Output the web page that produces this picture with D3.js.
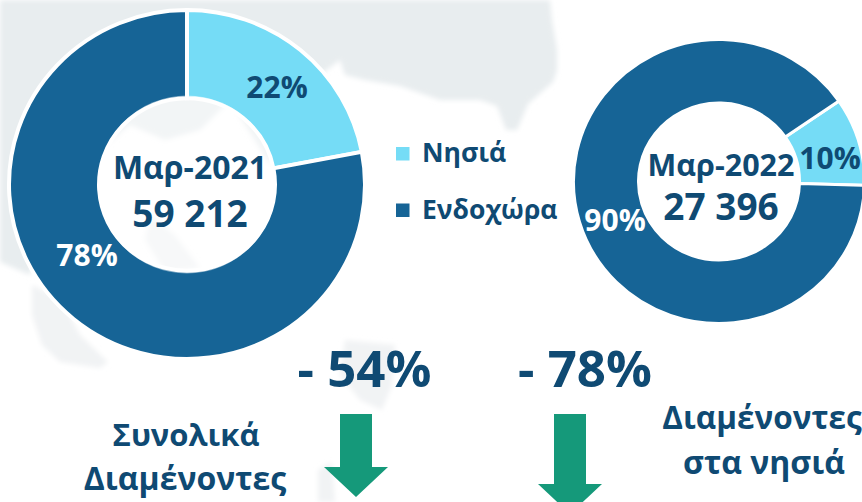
<!DOCTYPE html>
<html>
<head>
<meta charset="utf-8">
<script src="https://cdn.jsdelivr.net/npm/d3@7"></script>
<style>
  html, body { margin: 0; padding: 0; background: #fff; }
  text { font-family: "Open Sans", "Noto Sans", sans-serif; font-weight: 700; }
</style>
</head>
<body>
<div id="chart"></div>
<script>
// values
var categories = ["Νησιά", "Ενδοχώρα"];
var colors = ["#75dcf6", "#166496"];
var values2021 = [22, 78];
var values2022 = [10, 90];
var titles = ["Μαρ-2021", "Μαρ-2022"];
var totals = ["59 212", "27 396"];
var changes = ["- 54%", "- 78%"];

var width = 862, height = 502;
var dark = "#0f4a73";

var svg = d3.select("#chart").append("svg")
    .attr("width", width)
    .attr("height", height)
    .style("display", "block");

// faint map behind the chart
var blur = svg.append("defs").append("filter").attr("id", "soft");
blur.append("feGaussianBlur").attr("stdDeviation", 2.5);

var mapMain = "M0,0 L550,0 L552,20 L557,50 L557,70 L553,82 L528,104 L517,130 L506,130 L497,106 L480,100 L440,100 L400,86 L365,80 L345,75 L340,60 L320,75 L285,100 L270,165 L245,125 L230,100 L200,130 L165,140 L130,125 L100,150 L40,240 L30,275 L0,262 Z";
var mapPatches = [
  "M32,285 L62,300 L80,335 L108,362 L100,368 L60,362 L42,345 L32,315 Z",
  "M150,215 L175,235 L200,268 L165,272 L145,240 Z",
  "M345,340 L395,345 L392,385 L382,410 L360,400 L340,375 Z",
  "M318,470 L332,462 L335,502 L318,502 Z"
];
var map = svg.append("g").attr("filter", "url(#soft)");
map.append("path").attr("d", mapMain).attr("fill", "#e8edef");
map.selectAll(".patch").data(mapPatches).enter().append("path")
    .attr("class", "patch")
    .attr("d", d => d)
    .attr("fill", "#f1f3f4");

function donut(values, cx, cy, outer, inner, startAngle, sx, sy, gap) {
  var pie = d3.pie().sort(null)
      .startAngle(startAngle)
      .endAngle(startAngle + 2 * Math.PI);
  var arc = d3.arc().innerRadius(inner).outerRadius(outer);
  var g = svg.append("g").attr("transform", "translate(" + cx + "," + cy + ")");

  g.append("g")
    .attr("transform", "scale(" + sx + "," + sy + ")")
    .selectAll("path")
    .data(pie(values))
    .enter()
    .append("path")
      .attr("d", arc)
      .attr("fill", (d, i) => colors[i])
      .attr("stroke", "#fff")
      .attr("stroke-width", gap);
  return g;
}

function pctLabels(g, values, pos) {
  g.selectAll(".pct")
    .data(values)
    .enter()
    .append("text")
      .attr("class", "pct")
      .attr("x", (d, i) => pos[i][0])
      .attr("y", (d, i) => pos[i][1])
      .attr("text-anchor", "middle")
      .attr("font-size", 30)
      .attr("fill", (d, i) => i == 0 ? dark : "#fff")
      .text(d => d + "%");
}

var g1 = donut(values2021, 187, 184.5, 178, 88, 0, 1, 0.98, 4);
g1.append("circle").attr("r", 89).attr("fill", "#fff").attr("opacity", 0.45);
pctLabels(g1, values2021, [[90, -87], [-100, 81]]);

var g2 = donut(values2022, 719, 181.5, 142, 78.5, 55.5 * Math.PI / 180, 1.025, 1, 3);
pctLabels(g2, values2022, [[111, -13], [-104, 49]]);

function centerText(g, title, total, dx, yTitle, yTotal, titleSize, totalSize) {
  g.append("text").attr("x", dx).attr("y", yTitle).attr("text-anchor", "middle")
    .attr("font-size", titleSize).attr("fill", dark).text(title);
  g.append("text").attr("x", dx).attr("y", yTotal).attr("text-anchor", "middle")
    .attr("font-size", totalSize).attr("fill", dark).text(total);
}
centerText(g1, titles[0], totals[0], 3, -6, 42, 32, 37);
centerText(g2, titles[1], totals[1], 2, -6, 38, 30.5, 37);

// legend
var legendY = d3.scaleBand().domain(categories).range([147, 260]);
var legend = svg.append("g").selectAll("g").data(categories).enter().append("g")
    .attr("transform", d => "translate(396," + legendY(d) + ")");
legend.append("rect")
    .attr("width", 13.5).attr("height", 13.5)
    .attr("fill", (d, i) => colors[i]);
legend.append("text")
    .attr("x", 26).attr("y", 15)
    .attr("font-size", 26.5).attr("fill", dark)
    .text(d => d);

// change figures, arrows and captions
var changeX = [364.5, 585];
svg.selectAll(".change").data(changes).enter().append("text")
    .attr("class", "change")
    .attr("x", (d, i) => changeX[i])
    .attr("y", 387)
    .attr("text-anchor", "middle")
    .attr("font-size", 51)
    .attr("fill", dark)
    .text(d => d);

var arrowTop = 414, headHeight = 30;
var arrowX = [356, 570];
var arrowStem = [53, 70];
var arrow = d3.line();
arrowX.forEach(function(x, i) {
  var neck = arrowTop + arrowStem[i];
  svg.append("path")
    .attr("d", arrow([[x - 16, arrowTop], [x + 16, arrowTop], [x + 16, neck], [x + 32, neck],
                      [x, neck + headHeight], [x - 32, neck], [x - 16, neck]]) + "Z")
    .attr("fill", "#15997a");
});

var captions = [
  {x: 186, y: 446, t: "Συνολικά", s: 31},
  {x: 185, y: 490, t: "Διαμένοντες", s: 32},
  {x: 762, y: 429, t: "Διαμένοντες", s: 31.5},
  {x: 764, y: 474, t: "στα νησιά", s: 32}
];
svg.selectAll(".cap").data(captions).enter().append("text")
    .attr("class", "cap")
    .attr("x", d => d.x).attr("y", d => d.y)
    .attr("text-anchor", "middle")
    .attr("font-size", d => d.s)
    .attr("fill", dark)
    .text(d => d.t);
</script>
</body>
</html>
